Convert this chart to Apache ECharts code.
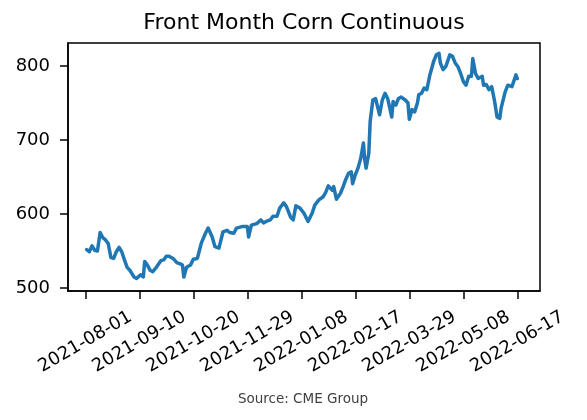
<!DOCTYPE html>
<html>
<head>
<meta charset="utf-8">
<script src="https://cdn.jsdelivr.net/npm/echarts@6/dist/echarts.min.js"></script>
<style>
  html, body { margin: 0; padding: 0; background: #fff; }
  #chart { width: 587px; height: 420px; }
</style>
</head>
<body>
<div id="chart"></div>
<script>
// front month corn
const dates = [
  '2021-08-02','2021-08-04','2021-08-06','2021-08-08','2021-08-10','2021-08-12','2021-08-14','2021-08-16','2021-08-18','2021-08-20',
  '2021-08-22','2021-08-24','2021-08-26','2021-08-28','2021-08-30','2021-09-01','2021-09-03','2021-09-06','2021-09-08','2021-09-11',
  '2021-09-13','2021-09-14','2021-09-16','2021-09-18','2021-09-20','2021-09-23','2021-09-24','2021-09-26','2021-09-28','2021-09-30',
  '2021-10-02','2021-10-05','2021-10-08','2021-10-10','2021-10-12','2021-10-13','2021-10-15','2021-10-18','2021-10-20','2021-10-23',
  '2021-10-24','2021-10-26','2021-10-29','2021-10-31','2021-11-03','2021-11-05','2021-11-08','2021-11-11','2021-11-14','2021-11-16',
  '2021-11-19','2021-11-21','2021-11-25','2021-11-29','2021-11-30','2021-12-02','2021-12-06','2021-12-09','2021-12-11','2021-12-13',
  '2021-12-16','2021-12-18','2021-12-21','2021-12-23','2021-12-26','2021-12-28','2021-12-31','2022-01-02','2022-01-04','2022-01-07',
  '2022-01-10','2022-01-13','2022-01-16','2022-01-18','2022-01-21','2022-01-24','2022-01-26','2022-01-28','2022-01-31','2022-02-01',
  '2022-02-03','2022-02-06','2022-02-08','2022-02-10','2022-02-12','2022-02-14','2022-02-15','2022-02-17','2022-02-19','2022-02-21',
  '2022-02-23','2022-02-24','2022-02-25','2022-02-27','2022-02-28','2022-03-02','2022-03-04','2022-03-05','2022-03-07','2022-03-09',
  '2022-03-11','2022-03-13','2022-03-14','2022-03-16','2022-03-17','2022-03-19','2022-03-21','2022-03-23','2022-03-26','2022-03-28',
  '2022-03-29','2022-03-31','2022-04-02','2022-04-04','2022-04-05','2022-04-07','2022-04-09','2022-04-11','2022-04-13','2022-04-16',
  '2022-04-18','2022-04-20','2022-04-21','2022-04-23','2022-04-25','2022-04-28','2022-04-30','2022-05-02','2022-05-04','2022-05-06',
  '2022-05-08','2022-05-10','2022-05-12','2022-05-14','2022-05-15','2022-05-17','2022-05-19','2022-05-22','2022-05-23','2022-05-25',
  '2022-05-27','2022-05-29','2022-05-31','2022-06-02','2022-06-04','2022-06-05','2022-06-08','2022-06-10','2022-06-13','2022-06-14',
  '2022-06-16','2022-06-17'
];
const prices = [
  552,549,557,551,550,575,568,565,560,541,
  540,549,555,549,538,528,524,515,513,518,
  515,536,531,524,522,529,528,537,538,543,
  543,540,534,533,531,515,528,531,539,540,
  547,561,574,581,569,556,554,576,578,575,
  574,581,583,583,569,585,587,592,588,590,
  592,597,597,608,615,610,596,592,611,608,
  601,590,601,612,619,623,629,638,632,637,
  620,628,637,647,655,657,641,653,662,675,
  696,673,662,682,725,754,756,754,734,754,
  763,756,758,731,752,747,756,758,754,750,
  728,741,738,750,761,763,770,768,786,806,
  815,817,804,795,799,815,813,804,799,790,
  779,774,786,786,810,790,783,786,774,775,
  768,772,754,731,729,743,765,774,772,770,
  788,783
];
const xTickDates = ['2021-08-01','2021-09-10','2021-10-20','2021-11-29','2022-01-08','2022-02-17','2022-03-29','2022-05-08','2022-06-17'];
const yTicks = [500, 600, 700, 800];

const DAY = 86400000;
const t0 = Date.parse('2021-08-01');
const fmt = (v) => new Date(v).toISOString().slice(0, 10);

const chart = echarts.init(document.getElementById('chart'), null, { renderer: 'canvas' });
const font = 'DejaVu Sans';

chart.setOption({
  backgroundColor: '#ffffff',
  animation: false,
  textStyle: { fontFamily: font },
  grid: {
    left: 68, right: 47, top: 43, bottom: 129,
    show: true, borderColor: '#000', borderWidth: 1.5,
    backgroundColor: 'transparent',
    outerBoundsMode: 'none'
  },
  graphic: [
    {
      type: 'text', x: 304, y: 23,
      style: { text: 'Front Month Corn Continuous', font: '22px "DejaVu Sans"', fill: '#000', textAlign: 'center', textVerticalAlign: 'middle' }
    },
    {
      type: 'text', x: 303, y: 399,
      style: { text: 'Source: CME Group', font: '13.5px "DejaVu Sans"', fill: '#404040', textAlign: 'center', textVerticalAlign: 'middle' }
    }
  ],
  xAxis: {
    type: 'value',
    min: t0 - 12.8 * DAY,
    max: t0 + 336.8 * DAY,
    splitLine: { show: false },
    axisLine: { show: true, lineStyle: { color: '#000', width: 1.5 } },
    axisTick: {
      show: true, inside: false, length: 8,
      lineStyle: { color: '#000', width: 1.5 },
      customValues: xTickDates.map(d => Date.parse(d))
    },
    axisLabel: {
      customValues: xTickDates.map(d => Date.parse(d)),
      formatter: (v) => fmt(v),
      rotate: 30,
      align: 'center',
      verticalAlign: 'middle',
      margin: 51,
      color: '#000',
      fontSize: 18,
      fontFamily: font,
      hideOverlap: false
    }
  },
  yAxis: {
    type: 'value',
    min: 496,
    max: 831,
    splitLine: { show: false },
    axisLine: { show: true, lineStyle: { color: '#000', width: 1.5 } },
    axisTick: {
      show: true, inside: false, length: 8,
      lineStyle: { color: '#000', width: 1.5 },
      customValues: yTicks
    },
    axisLabel: {
      customValues: yTicks,
      margin: 18,
      color: '#000',
      fontSize: 18,
      fontFamily: font
    }
  },
  series: [{
    type: 'line',
    data: dates.map((d, i) => [Date.parse(d), prices[i]]),
    showSymbol: false,
    symbol: 'none',
    lineStyle: { color: '#1f77b4', width: 3.5, join: 'round', cap: 'round' },
    itemStyle: { color: '#1f77b4' },
    silent: true
  }]
});
</script>
</body>
</html>
